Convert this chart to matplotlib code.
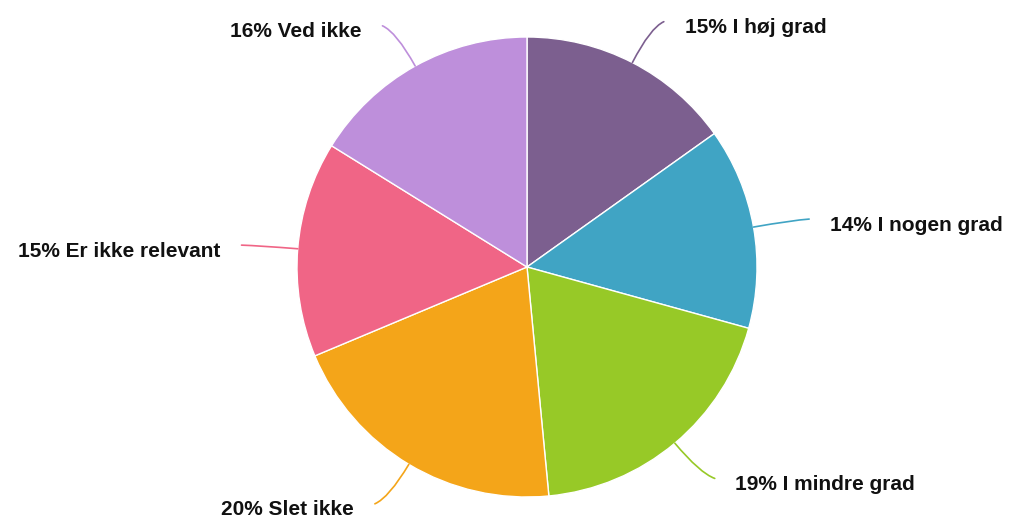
import numpy as np
import matplotlib
matplotlib.use('Agg')
from matplotlib import pyplot as plt
from matplotlib.path import Path
from matplotlib.patches import PathPatch

labels = ['I høj grad', 'I nogen grad', 'I mindre grad', 'Slet ikke',
          'Er ikke relevant', 'Ved ikke']
shares = [15, 14, 19, 20, 15, 16]
colors = ['#7c5f8f', '#40a4c4', '#97c927', '#f4a519', '#f06586', '#be8fdb']

plt.rcParams['font.family'] = ['Liberation Sans', 'DejaVu Sans']

fig = plt.figure(figsize=(10.09, 5.18), dpi=100)
ax = fig.add_axes([0, 0, 1, 1])

wedges, _ = ax.pie(shares, colors=colors, startangle=90, counterclock=False,
                   radius=1.0, wedgeprops=dict(edgecolor='white', linewidth=1.0))

# leader lines: out of the wedge, bending towards the label
r_knee = 1.17
r_end = 1.2
run = 0.045
for w, lab, val, col in zip(wedges, labels, shares, colors):
    mid = np.deg2rad((w.theta1 + w.theta2) / 2)
    ux, uy = np.cos(mid), np.sin(mid)
    side = 1 if ux >= 0 else -1
    p0 = (ux, uy)
    p1 = (r_knee * ux, r_knee * uy)
    p2 = (r_end * ux + side * run, r_end * uy)
    path = Path([p0, p1, p2], [Path.MOVETO, Path.CURVE3, Path.CURVE3])
    ax.add_patch(PathPatch(path, facecolor='none', edgecolor=col, lw=1.2,
                           capstyle='round'))
    ax.text(p2[0] + side * 0.09, p2[1] - 0.05, f'{val}% {lab}',
            ha='left' if side > 0 else 'right', va='baseline',
            fontsize=15, fontweight='bold', color='#111111')

ax.set_aspect('auto')
ax.set_xlim(-527 / 230, (1009 - 527) / 230)
ax.set_ylim(-(518 - 267) / 230, 267 / 230)
ax.axis('off')

plt.savefig('out.png', dpi=100)
